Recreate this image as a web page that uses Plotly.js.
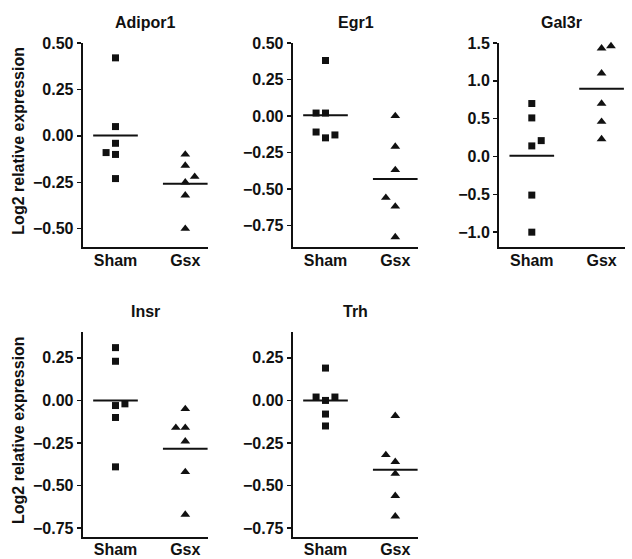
<!DOCTYPE html>
<html>
<head>
<meta charset="utf-8">
<script src="https://cdn.plot.ly/plotly-3.0.1.min.js"></script>
<style>html,body{margin:0;padding:0;background:#fff;}#chart{width:632px;height:559px;}</style>
</head>
<body>
<div id="chart"></div>
<script>
// ---- data ----
const groups = ['Sham', 'Gsx'];
const genes = ['Adipor1', 'Egr1', 'Gal3r', 'Insr', 'Trh'];

const adipor1Sham = [0.42, 0.05, -0.04, -0.09, -0.10, -0.23];
const adipor1Gsx  = [-0.10, -0.16, -0.22, -0.25, -0.32, -0.50];
const egr1Sham    = [0.38, 0.02, 0.02, -0.11, -0.15, -0.13];
const egr1Gsx     = [0.00, -0.21, -0.37, -0.56, -0.62, -0.83];
const gal3rSham   = [0.70, 0.51, 0.14, 0.21, -0.51, -1.00];
const gal3rGsx    = [1.43, 1.46, 1.10, 0.70, 0.46, 0.23];
const insrSham    = [0.31, 0.23, -0.02, -0.03, -0.10, -0.39];
const insrGsx     = [-0.05, -0.16, -0.16, -0.24, -0.42, -0.67];
const trhSham     = [0.19, 0.02, 0.02, 0.00, -0.08, -0.15];
const trhGsx      = [-0.09, -0.32, -0.36, -0.43, -0.56, -0.68];

// side-by-side slot of overlapping points (-1 left, 0 centre, 1 right)
const adipor1ShamSlot = [0, 0, 0, -1, 0, 0];
const adipor1GsxSlot  = [0, 0, 1, 0, 0, 0];
const egr1ShamSlot    = [0, -1, 0, -1, 0, 1];
const egr1GsxSlot     = [0, 0, 0, -1, 0, 0];
const gal3rShamSlot   = [0, 0, 0, 1, 0, 0];
const gal3rGsxSlot    = [0, 1, 0, 0, 0, 0];
const insrShamSlot    = [0, 0, 1, 0, 0, 0];
const insrGsxSlot     = [0, -1, 0, 0, 0, 0];
const trhShamSlot     = [0, -1, 1, 0, 0, 0];
const trhGsxSlot      = [0, -1, 0, 0, 0, 0];

const yRanges = [[-0.6, 0.5], [-0.9, 0.5], [-1.2, 1.5], [-0.8, 0.4], [-0.8, 0.4]];
const yDticks = [0.25, 0.25, 0.5, 0.25, 0.25];
const yFormats = ['.2f', '.2f', '.1f', '.2f', '.2f'];

const panelData = [
  [adipor1Sham, adipor1Gsx, adipor1ShamSlot, adipor1GsxSlot],
  [egr1Sham, egr1Gsx, egr1ShamSlot, egr1GsxSlot],
  [gal3rSham, gal3rGsx, gal3rShamSlot, gal3rGsxSlot],
  [insrSham, insrGsx, insrShamSlot, insrGsxSlot],
  [trhSham, trhGsx, trhShamSlot, trhGsxSlot]
];

// ---- layout geometry (pixels in a 632x559 canvas) ----
const W = 632, H = 559;
const boxes = [
  [82.7, 208.3, 43.0, 247.3],
  [292.7, 418.3, 43.0, 247.3],
  [499.0, 624.6, 43.0, 247.3],
  [82.7, 208.3, 332.3, 536.7],
  [292.7, 418.3, 332.3, 536.7]
];
const SLOT = 0.135, HALF = 0.32;
const fontFam = 'Liberation Sans, Arial, Helvetica, sans-serif';
const ink = '#111';

const mean = a => a.reduce((s, v) => s + v, 0) / a.length;

const traces = [];
const layout = {
  width: W, height: H,
  margin: {l: 0, r: 0, t: 0, b: 0},
  paper_bgcolor: '#fff', plot_bgcolor: '#fff',
  showlegend: false,
  font: {family: fontFam, color: ink, size: 15, weight: 'bold'},
  annotations: []
};

panelData.forEach((pd, i) => {
  const n = i + 1;
  const xa = 'x' + (n === 1 ? '' : n), ya = 'y' + (n === 1 ? '' : n);
  const [vS, vG, sS, sG] = pd;
  const sets = [[vS, sS, 'square', 7], [vG, sG, 'triangle-up', 8.5]];
  sets.forEach(([vals, slots, sym, sz], g) => {
    traces.push({
      type: 'scatter', mode: 'markers', xaxis: xa, yaxis: ya,
      x: vals.map((v, k) => (g + 1) + slots[k] * SLOT),
      y: vals,
      marker: {symbol: sym, size: sz, color: ink, line: {width: 0}},
      hoverinfo: 'y', cliponaxis: false
    });
    const m = mean(vals);
    traces.push({
      type: 'scatter', mode: 'lines', xaxis: xa, yaxis: ya,
      x: [g + 1 - HALF, g + 1 + HALF], y: [m, m],
      line: {color: ink, width: 2}, hoverinfo: 'skip', cliponaxis: false
    });
  });
  const [x0, x1, yt, yb] = boxes[i];
  layout['xaxis' + (n === 1 ? '' : n)] = {
    domain: [x0 / W, x1 / W], anchor: ya,
    range: [0.53, 2.33], tickvals: [1, 2], ticktext: groups,
    showline: true, linecolor: ink, linewidth: 2, mirror: false,
    ticks: '', ticklabelstandoff: -3, showgrid: false, zeroline: false, fixedrange: true,
    tickfont: {family: fontFam, size: 16, color: ink, weight: 'bold'}
  };
  layout['yaxis' + (n === 1 ? '' : n)] = {
    domain: [1 - yb / H, 1 - yt / H], anchor: xa,
    range: yRanges[i], tick0: 0, dtick: yDticks[i], tickformat: yFormats[i],
    showline: true, linecolor: ink, linewidth: 2,
    ticks: 'outside', ticklen: 4, tickwidth: 1.5, tickcolor: ink,
    showgrid: false, zeroline: false, fixedrange: true,
    tickfont: {family: fontFam, size: 16, color: ink, weight: 'bold'}
  };
  layout.annotations.push({
    xref: 'paper', yref: 'paper', x: (x0 + x1) / 2 / W, y: 1 - (yt - 21) / H,
    xanchor: 'center', yanchor: 'middle', showarrow: false,
    text: genes[i], font: {family: fontFam, size: 16, color: ink, weight: 'bold'}
  });
  if (n === 1 || n === 4) {
    layout.annotations.push({
      xref: 'paper', yref: 'paper', x: 18.5 / W, y: 1 - ((yt + yb) / 2 - 4) / H,
      xanchor: 'center', yanchor: 'middle', showarrow: false, textangle: -90,
      text: 'Log2 relative expression',
      font: {family: fontFam, size: 16, color: ink, weight: 'bold'}
    });
  }
});

Plotly.newPlot('chart', traces, layout, {displayModeBar: false, staticPlot: true});
</script>
</body>
</html>
